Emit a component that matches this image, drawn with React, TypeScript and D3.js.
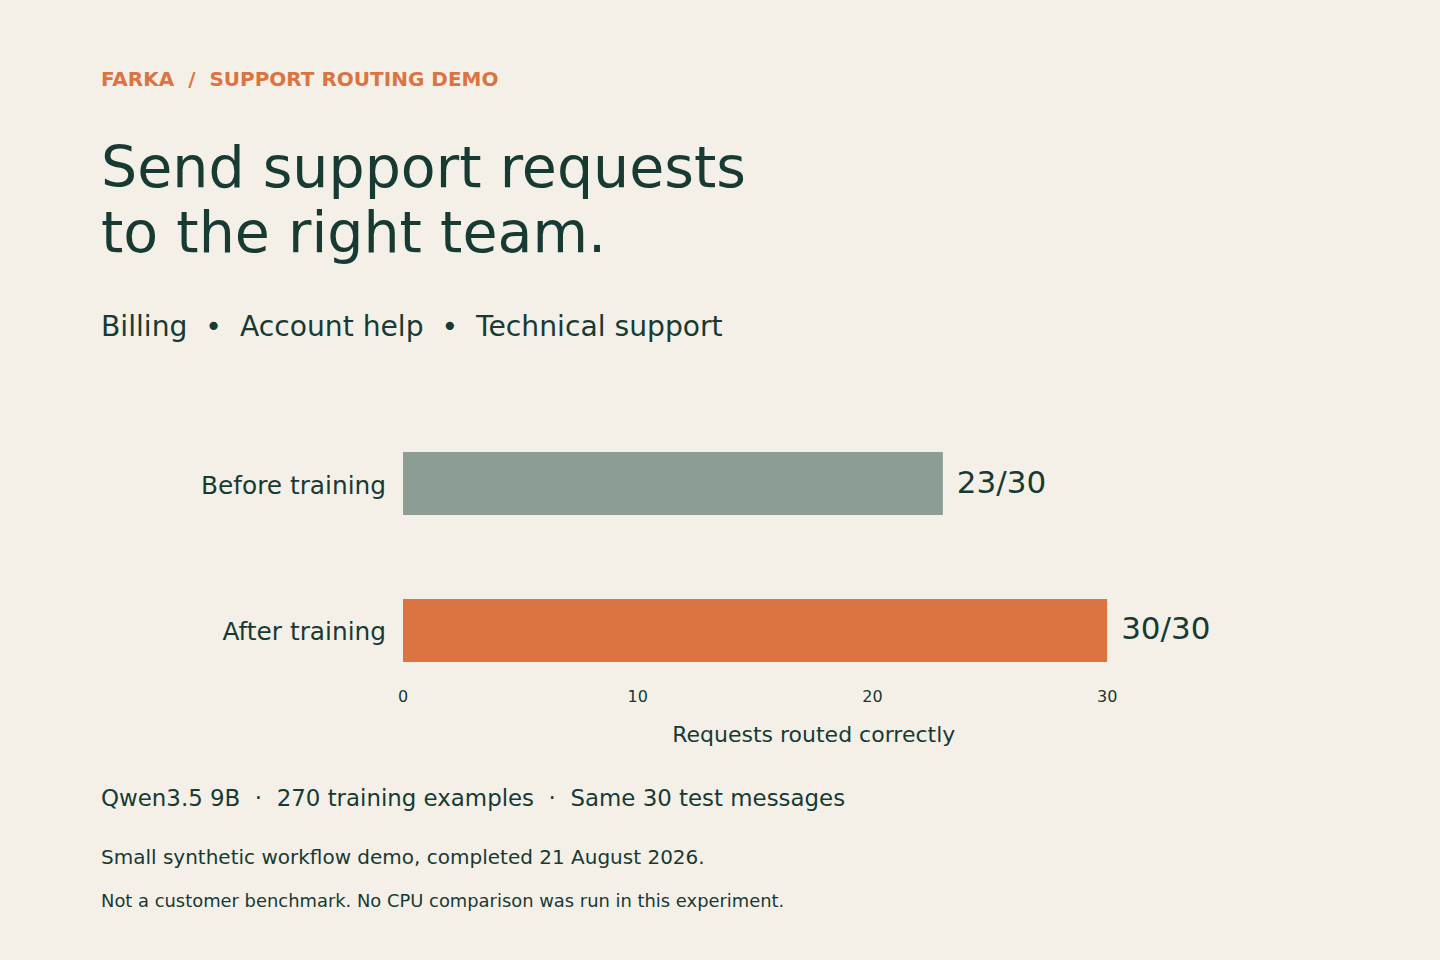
import React from "react";
import * as d3 from "d3";

const categories = ["Before training", "After training"];
const values = [23, 30];
const totals = [30, 30];
const barColors = ["#8c9d94", "#dc7442"];
const xDomain = [0, 35];
const tickValues = [0, 10, 20, 30];

const W = 1440;
const H = 960;
const INK = "#173a33";
const ACCENT = "#dc7442";
const FONT = "'DejaVu Sans', sans-serif";

export default function App() {
  const x = d3.scaleLinear().domain(xDomain).range([403, 1224.5]);
  const y = d3
    .scaleBand()
    .domain(categories)
    .range([415.25, 698.75])
    .paddingInner(0.5714)
    .paddingOuter(0.25);
  return (
    <svg width={W} height={H} style={{ position: "absolute", left: 0, top: 0, background: "#f4f0e8" }} fontFamily={FONT}>
      <rect width={W} height={H} fill="#f4f0e8" />
      <text x={101} y={86} fill={ACCENT} fontSize={20} fontWeight="bold" style={{ whiteSpace: "pre" }}>
        {"FARKA  /  SUPPORT ROUTING DEMO"}
      </text>
      <text x={101} y={186.5} fill={INK} fontSize={57}>Send support requests</text>
      <text x={101} y={251.5} fill={INK} fontSize={57}>to the right team.</text>
      <text x={101} y={336} fill={INK} fontSize={28.2} style={{ whiteSpace: "pre" }}>
        {"Billing  •  Account help  •  Technical support"}
      </text>
      {categories.map((c, i) => {
        const by = y(c) as number;
        const bh = y.bandwidth();
        const cy = by + bh / 2;
        return (
          <g key={c}>
            <rect x={x(0)} y={by} width={x(values[i]) - x(0)} height={bh} fill={barColors[i]} />
            <text x={386} y={cy + 10} textAnchor="end" fill={INK} fontSize={24.8}>{c}</text>
            <text x={x(values[i]) + 14} y={cy + 9} fill={INK} fontSize={31}>
              {`${values[i]}/${totals[i]}`}
            </text>
          </g>
        );
      })}
      {tickValues.map((t) => (
        <text key={t} x={x(t)} y={702} textAnchor="middle" fill={INK} fontSize={16}>{t}</text>
      ))}
      <text x={(x(xDomain[0]) + x(xDomain[1])) / 2} y={742} textAnchor="middle" fill={INK} fontSize={22}>
        Requests routed correctly
      </text>
      <text x={101} y={806} fill={INK} fontSize={22.9} style={{ whiteSpace: "pre" }}>
        {"Qwen3.5 9B  ·  270 training examples  ·  Same 30 test messages"}
      </text>
      <text x={101} y={864} fill={INK} fontSize={20}>Small synthetic workflow demo, completed 21 August 2026.</text>
      <text x={101} y={907} fill={INK} fontSize={17.9}>Not a customer benchmark. No CPU comparison was run in this experiment.</text>
    </svg>
  );
}
